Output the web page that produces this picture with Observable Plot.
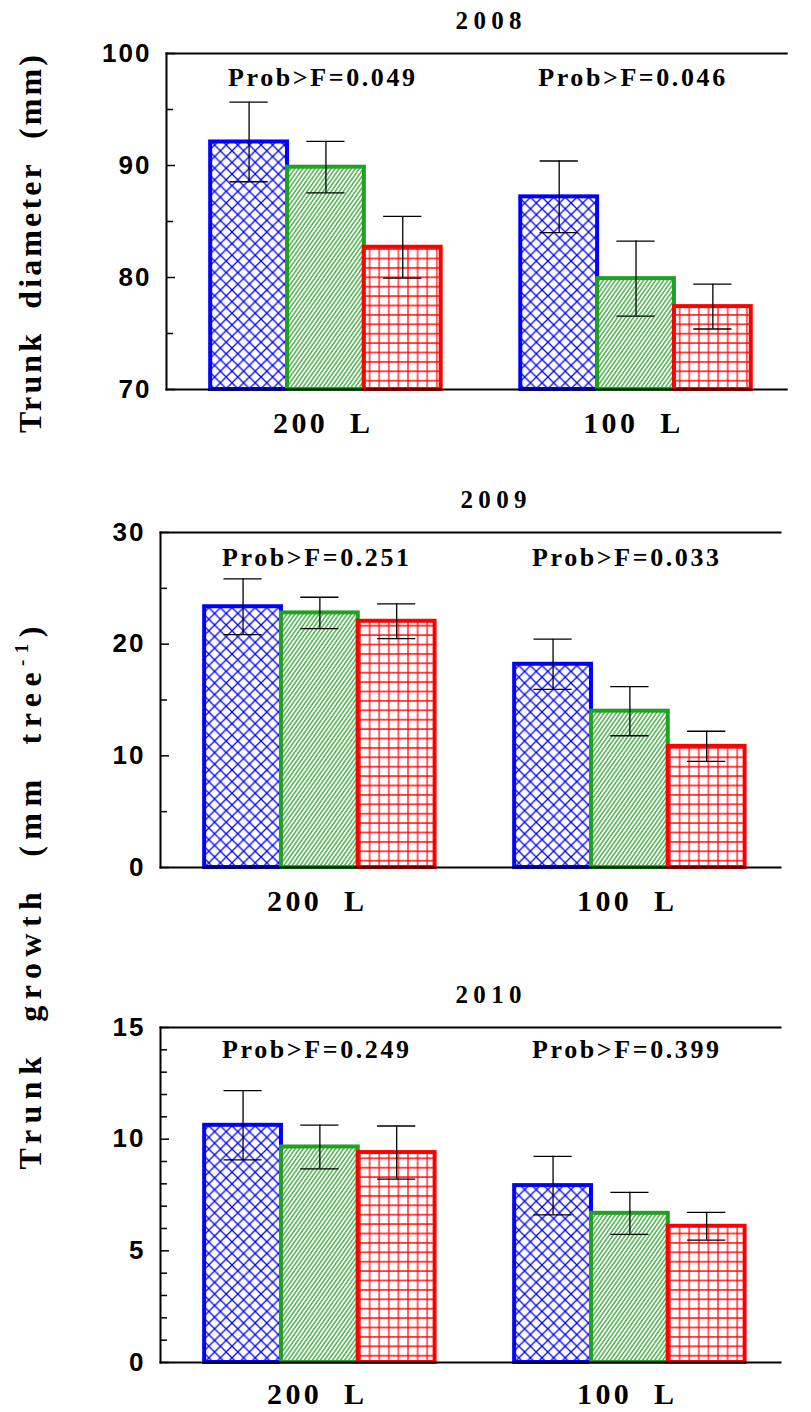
<!DOCTYPE html>
<html>
<head>
<meta charset="utf-8">
<script src="https://cdn.jsdelivr.net/npm/d3@7"></script>
<script src="https://cdn.jsdelivr.net/npm/@observablehq/plot@0.6"></script>
<style>
  body { margin: 0; background: #fff; }
  #root { position: relative; width: 811px; height: 1412px; overflow: hidden; background: #fff; }
  #root > svg { position: absolute; left: 0; overflow: visible; }
</style>
</head>
<body>
<svg width="0" height="0" style="position:absolute">
  <defs>
    <pattern id="pat0" patternUnits="userSpaceOnUse" width="11.6" height="11.6">
      <rect width="11.6" height="11.6" fill="#fff"/>
      <path d="M-1,-1L12.6,12.6M12.6,-1L-1,12.6" stroke="#0000ff" stroke-width="1.3" fill="none"/>
    </pattern>
    <pattern id="pat1" patternUnits="userSpaceOnUse" width="3.3" height="10" patternTransform="rotate(35)">
      <rect width="3.3" height="10" fill="#fff"/>
      <line x1="1.65" y1="-1" x2="1.65" y2="11" stroke="#21a021" stroke-width="1.2"/>
    </pattern>
    <pattern id="pat2" patternUnits="userSpaceOnUse" width="9.6" height="9.4">
      <rect width="9.6" height="9.4" fill="#fff"/>
      <path d="M4.8,-1V10.4M-1,4.7H10.6" stroke="#ff0000" stroke-width="1.2" fill="none"/>
    </pattern>
  </defs>
</svg>
<div id="root"></div>
<script>
// ---------------- data ----------------
const groups = ["200 L", "100 L"];
const treatments = ["T1", "T2", "T3"];

const title2008 = "2008";
const mean2008 = [[92.1, 89.85, 82.7], [87.2, 79.9, 77.4]];
const err2008  = [[3.55, 2.3, 2.75], [3.2, 3.35, 2.0]];
const prob2008 = ["Prob>F=0.049", "Prob>F=0.046"];
const yDomain2008 = [70, 100];
const major2008 = [70, 80, 90, 100];
const minor2008 = [75, 85, 95];

const title2009 = "2009";
const mean2009 = [[23.35, 22.8, 22.05], [18.2, 14.0, 10.85]];
const err2009  = [[2.5, 1.4, 1.55], [2.25, 2.2, 1.35]];
const prob2009 = ["Prob>F=0.251", "Prob>F=0.033"];
const yDomain2009 = [0, 30];
const major2009 = [0, 10, 20, 30];
const minor2009 = [5, 15, 25];

const title2010 = "2010";
const mean2010 = [[10.62, 9.65, 9.4], [7.92, 6.68, 6.1]];
const err2010  = [[1.55, 0.98, 1.19], [1.31, 0.94, 0.62]];
const prob2010 = ["Prob>F=0.249", "Prob>F=0.399"];
const yDomain2010 = [0, 15];
const major2010 = [0, 5, 10, 15];
const minor2010 = [1, 2, 3, 4, 6, 7, 8, 9, 11, 12, 13, 14];

const yLabelTop = "Trunk diameter (mm)";
const yLabelBottomMain = "Trunk growth (mm tree";
const yLabelBottomSup = "-1";
const yLabelBottomEnd = ")";

// ---------------- styles ----------------
const colors = ["#0000ff", "#21a021", "#ff0000"];
const patterns = ["url(#pat0)", "url(#pat1)", "url(#pat2)"];
const serif = "Liberation Serif, Times New Roman, serif";
const sans = "Liberation Sans, Arial, sans-serif";

function panel(cfg) {
  const rows = [];
  groups.forEach((g, i) => treatments.forEach((t, j) =>
    rows.push({g, t, v: cfg.means[i][j], e: cfg.errs[i][j]})));
  const probRows = groups.map((g, i) => ({g, label: cfg.probs[i]}));

  const marks = [];
  treatments.forEach((t, j) => {
    marks.push(Plot.barY(rows.filter(d => d.t === t), {
      fx: "g", x: "t", y1: cfg.domain[0], y2: "v",
      fill: patterns[j], stroke: colors[j], strokeWidth: 4
    }));
  });
  marks.push(
    Plot.frame({anchor: "bottom", facet: "super", stroke: "#000", strokeWidth: 2}),
    Plot.frame({anchor: "top", facet: "super", stroke: "#000", strokeWidth: 2}),
    Plot.frame({anchor: "left", facet: "super", stroke: "#000", strokeWidth: 2}),
    Plot.ruleX(rows, {fx: "g", x: "t", y1: d => d.v - d.e, y2: d => d.v + d.e, stroke: "#000", strokeWidth: 1.3}),
    Plot.tickY(rows, {fx: "g", x: "t", y: d => d.v + d.e, inset: 19.3, stroke: "#000", strokeWidth: 1.3}),
    Plot.tickY(rows, {fx: "g", x: "t", y: d => d.v - d.e, inset: 19.3, stroke: "#000", strokeWidth: 1.3}),
    Plot.axisY(cfg.major, {anchor: "left", tickSize: -9, fill: "none", strokeWidth: 1.5, label: null}),
    Plot.axisY(cfg.minor, {anchor: "left", tickSize: -7, fill: "none", strokeWidth: 1.5, label: null}),
    Plot.axisY(cfg.major, {anchor: "left", tickSize: 0, tickPadding: 15, label: null,
      fontSize: 26, fontWeight: "bold", fontFamily: sans, fill: "#000"}),
    Plot.axisFx({anchor: "bottom", tickSize: 0, tickPadding: cfg.fxPadding, label: null,
      fontSize: 30, fontWeight: "bold", fontFamily: serif, fill: "#000",
      tickFormat: d => d.replace(" ", "\u00a0\u00a0")}),
    Plot.text([cfg.title], {text: d => d, frameAnchor: "top", lineAnchor: "top", dy: -42, dx: cfg.titleDx,
      facet: "super", fontSize: 25, fontWeight: "bold", fontFamily: serif, fill: "#000"}),
    Plot.text(probRows, {fx: "g", text: "label", frameAnchor: "top", lineAnchor: "top", dy: cfg.probDy,
      fontSize: 26, fontWeight: "bold", fontFamily: serif, fill: "#000"})
  );

  const svg = Plot.plot({
    width: 811,
    height: cfg.height,
    marginTop: cfg.marginTop,
    marginBottom: cfg.marginBottom,
    marginLeft: cfg.marginLeft,
    marginRight: 0,
    style: {background: "transparent", overflow: "visible"},
    fx: {domain: groups, paddingInner: 0, paddingOuter: cfg.fxOuter, align: 0, round: false, label: null},
    x: {type: "band", domain: treatments, paddingInner: 0, paddingOuter: 0.518, align: 0.555, round: false, axis: null},
    y: {domain: cfg.domain, label: null},
    marks
  });
  svg.style.top = cfg.top + "px";

  const s = d3.select(svg);
  s.selectAll('g[aria-label="y-axis tick label"] text').style("letter-spacing", "2px");
  s.selectAll('g[aria-label="fx-axis tick label"] text')
    .attr("textLength", 97).attr("lengthAdjust", "spacing").style("white-space", "pre");
  const textGroups = s.selectAll('g[aria-label="text"]').nodes();
  if (textGroups[0]) d3.select(textGroups[0]).selectAll("text").attr("textLength", 66).attr("lengthAdjust", "spacing");
  if (textGroups[1]) d3.select(textGroups[1]).selectAll("text").attr("textLength", 187).attr("lengthAdjust", "spacing");
  return svg;
}

const root = document.getElementById("root");
root.appendChild(panel({title: title2008, means: mean2008, errs: err2008, probs: prob2008,
  domain: yDomain2008, major: major2008, minor: minor2008, titleDx: 12,
  top: 0, height: 440, marginTop: 53, marginBottom: 51, marginLeft: 166, fxOuter: 0.04, fxPadding: 22, probDy: 14}));
root.appendChild(panel({title: title2009, means: mean2009, errs: err2009, probs: prob2009,
  domain: yDomain2009, major: major2009, minor: minor2009, titleDx: 23,
  top: 480, height: 440, marginTop: 52, marginBottom: 53, marginLeft: 160, fxOuter: 0.05, fxPadding: 22, probDy: 15}));
root.appendChild(panel({title: title2010, means: mean2010, errs: err2010, probs: prob2010,
  domain: yDomain2010, major: major2010, minor: minor2010, titleDx: 18,
  top: 975, height: 437, marginTop: 52, marginBottom: 50, marginLeft: 160, fxOuter: 0.05, fxPadding: 20, probDy: 12}));

// y-axis titles
const lab = d3.select(root).append("svg").attr("width", 811).attr("height", 1412)
  .style("top", "0px").style("pointer-events", "none");
const sp = s => s.replace(/ /g, "\u00a0\u00a0");
lab.append("text")
  .attr("transform", "translate(41,244) rotate(-90)")
  .attr("text-anchor", "middle")
  .attr("textLength", 378).attr("lengthAdjust", "spacing")
  .attr("font-family", serif).attr("font-weight", "bold").attr("font-size", 32)
  .text(sp(yLabelTop));
const t2 = lab.append("text")
  .attr("transform", "translate(41,898) rotate(-90)")
  .attr("text-anchor", "middle")
  .attr("textLength", 543).attr("lengthAdjust", "spacing")
  .attr("font-family", serif).attr("font-weight", "bold").attr("font-size", 32);
t2.append("tspan").text(sp(yLabelBottomMain));
t2.append("tspan").attr("font-size", 19).attr("dy", -13).text(yLabelBottomSup);
t2.append("tspan").attr("dy", 13).text(yLabelBottomEnd);
</script>
</body>
</html>
